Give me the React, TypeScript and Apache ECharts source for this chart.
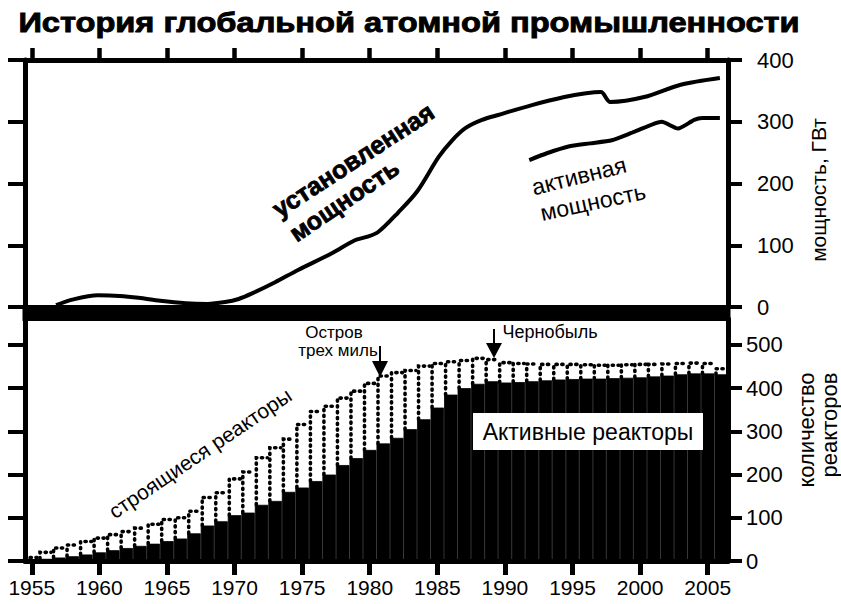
import React, { useEffect, useRef } from 'react';
import * as echarts from 'echarts';

const TITLE = 'История глобальной атомной промышленности';

const years = [
  '1955', '1956', '1957', '1958', '1959', '1960', '1961', '1962', '1963', '1964',
  '1965', '1966', '1967', '1968', '1969', '1970', '1971', '1972', '1973', '1974',
  '1975', '1976', '1977', '1978', '1979', '1980', '1981', '1982', '1983', '1984',
  '1985', '1986', '1987', '1988', '1989', '1990', '1991', '1992', '1993', '1994',
  '1995', '1996', '1997', '1998', '1999', '2000', '2001', '2002', '2003', '2004',
  '2005', '2006',
];
const yearTicks = [1955, 1960, 1965, 1970, 1975, 1980, 1985, 1990, 1995, 2000, 2005];

// installed capacity, GW (upper panel)
const installedYears = [
  1956.8, 1958, 1959.9, 1961.5, 1962.9, 1964.5, 1966.4, 1968, 1969.3, 1970.3, 1971.3,
  1973, 1974.7, 1977.2, 1978.9, 1979.7, 1980.6, 1982.1, 1983.5, 1985.1, 1986.1,
  1987.1, 1988.3, 1989.5, 1992, 1994.4, 1996, 1997.1, 1997.8, 2000.3, 2003, 2005.9,
];
const installedGW = [
  3, 12, 19, 18, 15, 10, 6, 5, 8, 13, 22,
  40, 60, 87, 108, 113, 121, 153, 187, 243, 270,
  290, 303, 311, 327, 340, 346, 348, 332, 340, 360, 371,
];

// active capacity, GW (upper panel)
const activeCapYears = [1991.8, 1993.1, 1994.7, 1996.3, 1997.9, 1999.6, 2001.6, 2002.8, 2004.0, 2004.6, 2005.9];
const activeCapGW = [238, 249, 260, 265, 270, 284, 300, 289, 303, 306, 306];

// reactors (lower panel), one value per year 1955..2006
const activeReactors = [
  3, 5, 8, 11, 15, 20, 25, 30, 35, 40,
  46, 52, 64, 82, 92, 106, 112, 130, 139, 160,
  170, 185, 200, 222, 238, 257, 272, 285, 305, 328,
  355, 385, 400, 410, 416, 413, 414, 416, 418, 420,
  421, 422, 422, 423, 424, 425, 427, 429, 432, 434,
  434, 432,
];
const constructingReactors = [
  5, 15, 22, 26, 30, 33, 36, 38, 41, 45,
  50, 48, 51, 65, 66, 84, 94, 109, 123, 122,
  146, 161, 158, 155, 155, 154, 156, 151, 136, 123,
  102, 76, 64, 59, 50, 46, 43, 40, 37, 35,
  34, 32, 31, 30, 30, 30, 28, 27, 25, 24,
  23, 13,
];

const powerTicks = [0, 100, 200, 300, 400];
const reactorTicks = [0, 100, 200, 300, 400, 500];

const FONT = '"Liberation Sans", Arial, Helvetica, sans-serif';

export default function App() {
  const ref = useRef<HTMLDivElement>(null);

  useEffect(() => {
    const el = ref.current;
    if (!el) return;
    const chart = echarts.init(el, null, { renderer: 'svg' });

    const ctx = document.createElement('canvas').getContext('2d');
    const measure = (font: string, text: string) => {
      if (!ctx) return 1;
      ctx.font = font;
      return ctx.measureText(text).width || 1;
    };
    const titleFontSize = 28;
    const titleFont = `bold ${titleFontSize}px ${FONT}`;
    const titleScale = 782 / measure(titleFont, TITLE);

    const isYearTick = (i: number) => yearTicks.indexOf(Number(years[i])) >= 0;
    const deg = (d: number) => (d * Math.PI) / 180;

    const txt = (
      text: string,
      x: number,
      y: number,
      size: number,
      opts: any = {}
    ) => ({
      type: 'text',
      x,
      y,
      z: 100,
      rotation: opts.rotation || 0,
      scaleX: opts.scaleX || 1,
      style: {
        text,
        font: `${opts.weight || 'normal'} ${size}px ${FONT}`,
        fill: '#000',
        stroke: opts.stroke ? '#000' : undefined,
        lineWidth: opts.stroke || 0,
        align: opts.align || 'center',
        verticalAlign: 'middle',
        textAlign: opts.align || 'center',
        textVerticalAlign: 'middle',
      },
    });

    const axisLine = { show: true, onZero: false, lineStyle: { color: '#000', width: 5 } };

    const option: any = {
      animation: false,
      backgroundColor: '#fff',
      grid: [
        { left: 25, top: 60, width: 703, height: 247 },
        { left: 25, top: 319, width: 703, height: 242 },
      ],
      xAxis: [
        {
          type: 'value',
          gridIndex: 0,
          position: 'top',
          min: 1954.5,
          max: 2006.5,
          axisLine,
          axisTick: {
            show: true,
            customValues: yearTicks,
            length: 12,
            lineStyle: { color: '#000', width: 4.5 },
          },
          axisLabel: { show: false },
          splitLine: { show: false },
        },
        {
          type: 'category',
          gridIndex: 1,
          position: 'bottom',
          data: years,
          boundaryGap: true,
          axisLine,
          axisTick: {
            show: true,
            alignWithLabel: true,
            interval: (i: number) => isYearTick(i),
            length: 14,
            lineStyle: { color: '#000', width: 5 },
          },
          axisLabel: {
            interval: (i: number) => isYearTick(i),
            margin: 16,
            fontSize: 21,
            fontFamily: FONT,
            color: '#000',
          },
          splitLine: { show: false },
        },
      ],
      yAxis: [
        {
          type: 'value',
          gridIndex: 0,
          position: 'left',
          min: 0,
          max: 400,
          interval: 100,
          axisLine,
          axisTick: { show: true, length: 17, lineStyle: { color: '#000', width: 4 } },
          axisLabel: { show: false },
          splitLine: { show: false },
        },
        {
          type: 'value',
          gridIndex: 0,
          position: 'right',
          min: 0,
          max: 400,
          axisLine,
          axisTick: {
            show: true,
            customValues: powerTicks,
            length: 14,
            lineStyle: { color: '#000', width: 4 },
          },
          axisLabel: {
            customValues: powerTicks,
            margin: 29,
            fontSize: 22,
            fontFamily: FONT,
            color: '#000',
          },
          splitLine: { show: false },
        },
        {
          type: 'value',
          gridIndex: 1,
          position: 'left',
          min: 0,
          max: 560,
          axisLine,
          axisTick: {
            show: true,
            customValues: reactorTicks,
            length: 17,
            lineStyle: { color: '#000', width: 4 },
          },
          axisLabel: { show: false },
          splitLine: { show: false },
        },
        {
          type: 'value',
          gridIndex: 1,
          position: 'right',
          min: 0,
          max: 560,
          axisLine,
          axisTick: {
            show: true,
            customValues: reactorTicks,
            length: 14,
            lineStyle: { color: '#000', width: 4 },
          },
          axisLabel: {
            customValues: reactorTicks,
            margin: 18,
            fontSize: 22,
            fontFamily: FONT,
            color: '#000',
          },
          splitLine: { show: false },
        },
      ],
      series: [
        {
          name: 'установленная мощность',
          type: 'line',
          xAxisIndex: 0,
          yAxisIndex: 0,
          data: installedYears.map((y, i) => [y, installedGW[i]]),
          smooth: 0.3,
          symbol: 'none',
          lineStyle: { color: '#000', width: 4 },
          z: 3,
        },
        {
          name: 'активная мощность',
          type: 'line',
          xAxisIndex: 0,
          yAxisIndex: 0,
          data: activeCapYears.map((y, i) => [y, activeCapGW[i]]),
          smooth: 0.2,
          symbol: 'none',
          lineStyle: { color: '#000', width: 4 },
          z: 3,
        },
        {
          name: 'Активные реакторы',
          type: 'bar',
          xAxisIndex: 1,
          yAxisIndex: 2,
          data: activeReactors,
          barCategoryGap: '0%',
          itemStyle: { color: '#000', borderColor: '#000', borderWidth: 0.8 },
          z: 2,
        },
        {
          name: 'строящиеся реакторы',
          type: 'custom',
          xAxisIndex: 1,
          yAxisIndex: 2,
          data: activeReactors.map((a, i) => [i, a, constructingReactors[i]]),
          encode: { x: 0, y: [1, 2] },
          z: 3,
          renderItem: (params: any, api: any) => {
            const i = api.value(0);
            const a = api.value(1);
            const c = api.value(2);
            const base = api.coord([i, a]);
            const top = api.coord([i, a + c]);
            const w = api.size([1, 0])[0];
            const xl = base[0] - w / 2 + 1.5;
            const xr = base[0] + w / 2 - 1;
            return {
              type: 'polyline',
              shape: { points: [[xl, base[1]], [xl, top[1]], [xr, top[1]]] },
              style: {
                stroke: '#000',
                fill: null,
                lineWidth: 3.6,
                lineDash: [1.2, 4.6],
                lineCap: 'round',
              },
            };
          },
        },
      ],
      graphic: [
        // band between the panels
        {
          type: 'rect',
          z: 50,
          shape: { x: 22.5, y: 305, width: 708, height: 16 },
          style: { fill: '#000' },
        },
        txt(TITLE, 409, 22, titleFontSize, { weight: 'bold', scaleX: titleScale, stroke: 0.9 }),
        // upper panel annotations
        txt('установленная', 353, 160, 25, { weight: 'bold', rotation: deg(33), stroke: 0.8 }),
        txt('мощность', 344, 200, 25, { weight: 'bold', rotation: deg(34), stroke: 0.8 }),
        txt('активная', 579, 176, 23, { rotation: deg(14) }),
        txt('мощность', 593, 202, 23, { rotation: deg(12) }),
        // axis titles
        txt('мощность, ГВт', 818, 190, 21, { rotation: deg(90) }),
        txt('количество', 806, 430, 22, { rotation: deg(90) }),
        txt('реакторов', 829, 425, 22, { rotation: deg(90) }),
        // lower panel annotations
        txt('строящиеся реакторы', 200, 453, 21, { rotation: deg(34) }),
        txt('Остров', 334, 332, 17),
        txt('трех миль', 338, 350, 17),
        {
          type: 'line',
          z: 100,
          shape: { x1: 380, y1: 346, x2: 380, y2: 363 },
          style: { stroke: '#000', lineWidth: 2 },
        },
        {
          type: 'polygon',
          z: 100,
          shape: { points: [[372, 361], [388, 361], [380, 377]] },
          style: { fill: '#000' },
        },
        txt('Чернобыль', 550, 332, 18),
        {
          type: 'line',
          z: 100,
          shape: { x1: 494, y1: 329, x2: 494, y2: 345 },
          style: { stroke: '#000', lineWidth: 2 },
        },
        {
          type: 'polygon',
          z: 100,
          shape: { points: [[486, 343], [502, 343], [494, 358]] },
          style: { fill: '#000' },
        },
        {
          type: 'rect',
          z: 99,
          shape: { x: 473, y: 413, width: 230, height: 37 },
          style: { fill: '#fff' },
        },
        txt('Активные реакторы', 588, 432, 23),
      ],
    };

    chart.setOption(option);
    return () => chart.dispose();
  }, []);

  return (
    <div
      ref={ref}
      style={{ position: 'absolute', left: 0, top: 0, width: 841, height: 604, background: '#fff' }}
    />
  );
}
